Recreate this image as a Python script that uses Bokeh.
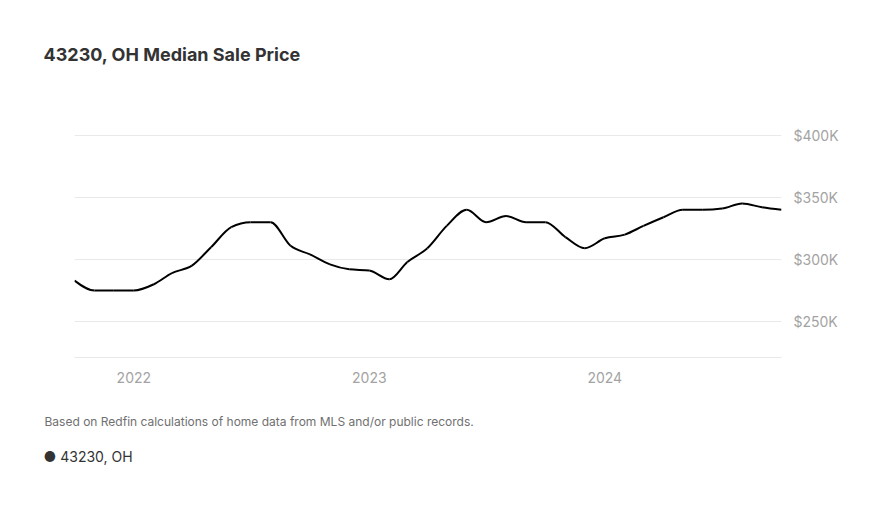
from datetime import datetime
import numpy as np
from bokeh.plotting import figure
from bokeh.models import (Range1d, FixedTicker, CustomJSTickFormatter, Title,
                          ColumnDataSource)
from bokeh.embed import file_html
from bokeh.resources import INLINE

# ---- data ----
months = ["2021-10", "2021-11", "2021-12", "2022-01", "2022-02", "2022-03",
          "2022-04", "2022-05", "2022-06", "2022-07", "2022-08", "2022-09",
          "2022-10", "2022-11", "2022-12", "2023-01", "2023-02", "2023-03",
          "2023-04", "2023-05", "2023-06", "2023-07", "2023-08", "2023-09",
          "2023-10", "2023-11", "2023-12", "2024-01", "2024-02", "2024-03",
          "2024-04", "2024-05", "2024-06", "2024-07", "2024-08", "2024-09",
          "2024-10"]
median_price = [283000, 275000, 275000, 275000, 280000, 289000,
                295000, 310000, 326000, 330000, 330000, 311000,
                304000, 296000, 292000, 291000, 284000, 298000,
                309000, 327000, 340000, 330000, 335000, 330000,
                330000, 318000, 309000, 317000, 320000, 327000,
                334000, 340000, 340000, 341000, 345000, 342000,
                340000]
y_ticks = [250000, 300000, 350000, 400000]
x_tick_years = [2022, 2023, 2024]
series_name = "43230, OH"
title_text = "43230, OH Median Sale Price"
footer_text = "Based on Redfin calculations of home data from MLS and/or public records."

FONT = "Inter"

xs = np.array([datetime.strptime(m, "%Y-%m").timestamp() * 1000 for m in months])
ys = np.array(median_price, dtype=float)

# monotone cubic (like d3.curveMonotoneX) control points
def monotone_beziers(x, y):
    n = len(x)
    h = np.diff(x)
    s = np.diff(y) / h
    t = np.zeros(n)
    for i in range(1, n - 1):
        h0, h1, s0, s1 = h[i - 1], h[i], s[i - 1], s[i]
        p = (s0 * h1 + s1 * h0) / (h0 + h1)
        t[i] = (np.sign(s0) + np.sign(s1)) * min(abs(s0), abs(s1), 0.5 * abs(p))
    t[0] = (3 * s[0] - t[1]) / 2
    t[-1] = (3 * s[-1] - t[-2]) / 2
    dx = h / 3
    return dict(x0=x[:-1], y0=y[:-1], x1=x[1:], y1=y[1:],
                cx0=x[:-1] + dx, cy0=y[:-1] + dx * t[:-1],
                cx1=x[1:] - dx, cy1=y[1:] - dx * t[1:])

p = figure(width=872, height=490, output_backend="svg", toolbar_location=None,
           x_axis_type="datetime", y_axis_location="right",
           x_range=Range1d(xs[0], xs[-1]), y_range=Range1d(221000, 428000),
           min_border_left=74, min_border_right=91, min_border_top=100,
           min_border_bottom=133)
p.outline_line_color = None
p.background_fill_color = "white"
p.border_fill_color = "white"

# title
p.title.text = title_text
p.title.text_font = FONT
p.title.text_font_size = "18px"
p.title.text_font_style = "bold"
p.title.text_color = "#333333"
p.title.align = "left"
p.title.offset = -31
p.title.standoff = 71

# grid
p.xgrid.visible = False
p.ygrid.ticker = FixedTicker(ticks=y_ticks)
p.ygrid.grid_line_color = "#e9e9e9"
p.ygrid.grid_line_width = 1

# y axis
yax = p.yaxis[0]
yax.ticker = FixedTicker(ticks=y_ticks)
yax.formatter = CustomJSTickFormatter(code='return "$" + (tick/1000).toFixed(0) + "K";')
yax.axis_line_color = None
yax.major_tick_line_color = None
yax.minor_tick_line_color = None
yax.major_label_text_font = FONT
yax.major_label_text_font_size = "14px"
yax.major_label_text_color = "#a3a3a3"
yax.major_label_standoff = 6

# x axis
xax = p.xaxis[0]
xax.ticker = FixedTicker(ticks=[datetime(yr, 1, 1).timestamp() * 1000 for yr in x_tick_years])
xax.formatter = CustomJSTickFormatter(code='return new Date(tick).getUTCFullYear().toString();')
xax.axis_line_color = "#e9e9e9"
xax.axis_line_width = 1
xax.major_tick_line_color = None
xax.minor_tick_line_color = None
xax.major_label_text_font = FONT
xax.major_label_text_font_size = "14px"
xax.major_label_text_color = "#a3a3a3"
xax.major_label_standoff = 8

# curve
bz = monotone_beziers(xs, ys)
p.bezier(x0="x0", y0="y0", x1="x1", y1="y1", cx0="cx0", cy0="cy0", cx1="cx1", cy1="cy1",
         source=ColumnDataSource(bz), line_color="black", line_width=2)

# footer
footer = Title(text=footer_text, align="left", offset=-30, standoff=53,
               text_font=FONT, text_font_size="12px", text_font_style="normal",
               text_color="#707070")
p.add_layout(footer, "below")

# legend row (dot + series name)
legend_row = Title(text="\u25CF " + series_name, align="left", offset=-31, standoff=-19,
                   text_font=FONT, text_font_size="14px", text_font_style="normal",
                   text_color="#333333")
p.add_layout(legend_row, "below")

open("out.html", "w").write(file_html(p, INLINE))
